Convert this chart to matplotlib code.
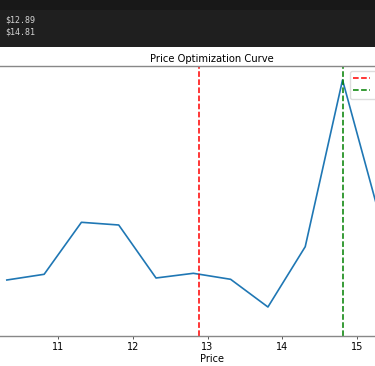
import numpy as np
import matplotlib
matplotlib.use("Agg")
import matplotlib.pyplot as plt
from matplotlib.patches import Rectangle

# %% Data
prices = [10.31, 10.81, 11.31, 11.81, 12.31, 12.81, 13.31, 13.81, 14.31, 14.81, 15.31]
revenue = [560, 617, 1137, 1110, 580, 627, 567, 290, 893, 2560, 1190]
model_optimum = 12.89
observed_optimum = 14.81
printed_lines = ["$12.89", "$14.81"]
xticks = [11, 12, 13, 14, 15]

# %% Figure (crop of a notebook cell: output strip on top, chart below)
W, H = 375, 366
fig = plt.figure(figsize=(W / 100, H / 100), dpi=100)

# dark output area
fig.add_artist(Rectangle((0, 1 - 47 / H), 1, 47 / H, transform=fig.transFigure,
                         facecolor="#1f1f1f", edgecolor="none", zorder=0))
fig.add_artist(Rectangle((0, 1 - 10 / H), 1, 10 / H, transform=fig.transFigure,
                         facecolor="#181818", edgecolor="none", zorder=0))
for i, txt in enumerate(printed_lines):
    fig.text(5 / W, 1 - (20.5 + 11.5 * i) / H, txt, color="#d4d4d4",
             family="DejaVu Sans Mono", fontsize=6, va="center", ha="left")

# axes wider than the crop
left_px, right_px, top_px, bottom_px = -60, 484, 66, 336
ax = fig.add_axes([left_px / W, 1 - bottom_px / H,
                   (right_px - left_px) / W, (bottom_px - top_px) / H])

ax.plot(prices, revenue, color="#1f77b4", linewidth=1.2)
ax.axvline(model_optimum, color="red", linestyle="--", linewidth=1.1,
           label=f"Optimal Price (Model): ${model_optimum:.2f}")
ax.axvline(observed_optimum, color="green", linestyle="--", linewidth=1.1,
           label=f"Optimal Price (Observed): ${observed_optimum:.2f}")

# tick 11 sits at x=58.3 px, 74.6 px per unit
px_per_unit = 74.6
ax.set_xlim(11 + (left_px - 58.3) / px_per_unit, 11 + (right_px - 58.3) / px_per_unit)
ax.set_ylim(0, 2700)
ax.set_xticks(xticks)
ax.set_yticks([])
ax.tick_params(axis="x", labelsize=7, length=2.5, width=0.7, pad=2, color="#555555")

for s in ax.spines.values():
    s.set_color("#888888")
    s.set_linewidth(1.0)

ax.set_title("Price Optimization Curve", fontsize=7.2, pad=3)
ax.set_xlabel("Price", fontsize=7, labelpad=1.5)

ax.legend(loc="upper left", bbox_to_anchor=(350 / W, 1 - 71 / H),
          bbox_transform=fig.transFigure, borderaxespad=0, fontsize=6,
          labelspacing=0.35, framealpha=1, edgecolor="#dddddd")

fig.savefig("out.png", dpi=100)
